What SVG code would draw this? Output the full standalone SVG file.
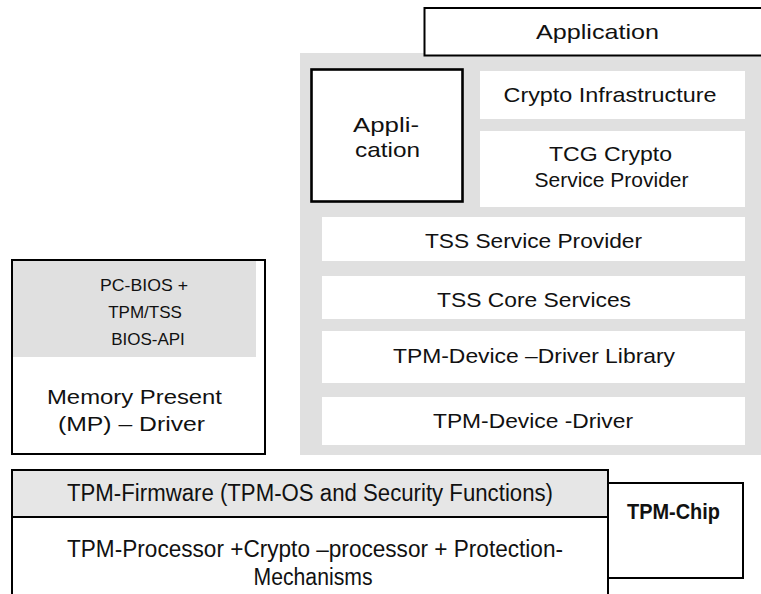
<svg xmlns="http://www.w3.org/2000/svg" width="761" height="594" viewBox="0 0 761 594">
  <style>
    .lbl { font-family: "Liberation Sans", Arial, sans-serif; font-size: 21px; fill: #111; text-anchor: middle; }
    .sm { font-size: 17px; }
    .hw { font-size: 23px; }
    .bold { font-weight: bold; font-size: 22px; }
    .box { fill: #ffffff; stroke: #000; stroke-width: 2; }
    .thick { stroke-width: 2.6; }
    .layer { fill: #ffffff; }
    .shade { fill: #e0e0e0; }
    .fw { fill: #e6e6e6; }
  </style>

  <!-- Software stack panel -->
  <g id="stack-panel">
    <rect class="shade" x="300" y="53" width="470" height="402"/>
  </g>

  <g id="app-top">
    <rect class="box" x="424.5" y="8" width="345" height="47.5"/>
    <text class="lbl" x="597.5" y="39" textLength="123" lengthAdjust="spacingAndGlyphs">Application</text>
  </g>

  <g id="app-side">
    <rect class="box thick" x="311.5" y="69.5" width="151" height="132"/>
    <text class="lbl" x="386" y="132" textLength="66" lengthAdjust="spacingAndGlyphs">Appli-</text>
    <text class="lbl" x="387.5" y="157" textLength="65" lengthAdjust="spacingAndGlyphs">cation</text>
  </g>

  <g id="crypto-infra">
    <rect class="layer" x="480" y="71" width="265" height="48"/>
    <text class="lbl" x="610" y="102" textLength="213" lengthAdjust="spacingAndGlyphs">Crypto Infrastructure</text>
  </g>

  <g id="tcg-csp">
    <rect class="layer" x="480" y="131" width="265" height="76"/>
    <text class="lbl" x="610.5" y="161" textLength="123" lengthAdjust="spacingAndGlyphs">TCG Crypto</text>
    <text class="lbl" x="611.5" y="187">Service Provider</text>
  </g>

  <g id="tss-sp">
    <rect class="layer" x="322" y="217" width="423" height="44"/>
    <text class="lbl" x="533.5" y="248" textLength="217" lengthAdjust="spacingAndGlyphs">TSS Service Provider</text>
  </g>

  <g id="tss-core">
    <rect class="layer" x="322" y="276" width="423" height="43"/>
    <text class="lbl" x="534" y="307" textLength="194" lengthAdjust="spacingAndGlyphs">TSS Core Services</text>
  </g>

  <g id="tdd-lib">
    <rect class="layer" x="322" y="331" width="423" height="52"/>
    <text class="lbl" x="534" y="363" textLength="282" lengthAdjust="spacingAndGlyphs">TPM-Device –Driver Library</text>
  </g>

  <g id="tdd">
    <rect class="layer" x="322" y="397" width="423" height="48"/>
    <text class="lbl" x="533" y="428" textLength="200" lengthAdjust="spacingAndGlyphs">TPM-Device -Driver</text>
  </g>

  <!-- Pre-boot environment -->
  <g id="bios">
    <rect class="box" x="12" y="260" width="253" height="194"/>
    <rect class="shade" x="13" y="261" width="243" height="96"/>
    <text class="lbl sm" x="144" y="291" textLength="88" lengthAdjust="spacingAndGlyphs">PC-BIOS +</text>
    <text class="lbl sm" x="145" y="318">TPM/TSS</text>
    <text class="lbl sm" x="148" y="345">BIOS-API</text>
    <text class="lbl" x="134.5" y="404" textLength="175" lengthAdjust="spacingAndGlyphs">Memory Present</text>
    <text class="lbl" x="131.5" y="431" textLength="147" lengthAdjust="spacingAndGlyphs">(MP) – Driver</text>
  </g>

  <!-- Hardware -->
  <g id="tpm-chip">
    <rect class="box" x="608" y="483" width="135" height="95"/>
    <text class="lbl bold" x="673.5" y="519" textLength="93" lengthAdjust="spacingAndGlyphs">TPM-Chip</text>
  </g>

  <g id="tpm-firmware">
    <rect class="box fw" x="12" y="470" width="596" height="47"/>
    <text class="lbl hw" x="310" y="501" textLength="486" lengthAdjust="spacingAndGlyphs">TPM-Firmware (TPM-OS and Security Functions)</text>
  </g>

  <g id="tpm-processor">
    <rect class="box" x="12" y="517" width="596" height="90"/>
    <text class="lbl hw" x="315" y="557" textLength="496" lengthAdjust="spacingAndGlyphs">TPM-Processor +Crypto –processor + Protection-</text>
    <text class="lbl hw" x="313" y="585" textLength="119" lengthAdjust="spacingAndGlyphs">Mechanisms</text>
  </g>

  <g id="connectors"/>
</svg>
